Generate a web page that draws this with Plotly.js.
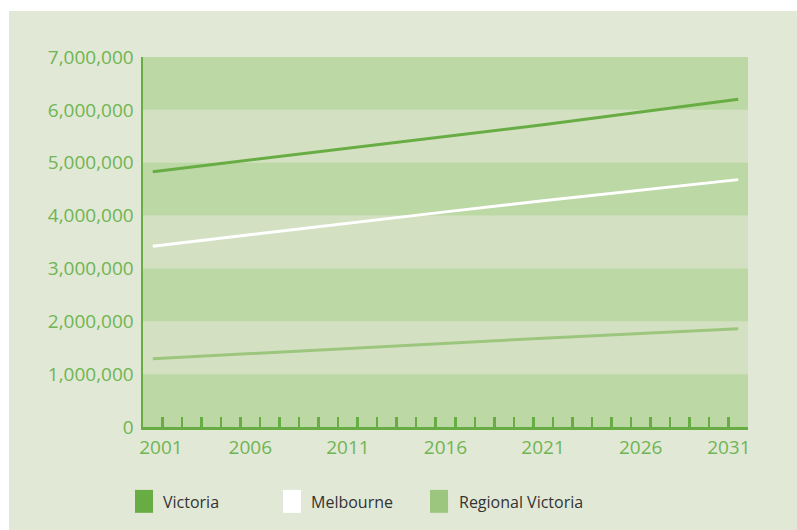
<!DOCTYPE html>
<html>
<head>
<meta charset="utf-8">
<script src="https://cdn.plot.ly/plotly-3.0.1.min.js"></script>
<style>
  html, body { margin: 0; padding: 0; background: #ffffff; width: 797px; height: 530px; overflow: hidden; }
  #chart { position: absolute; left: 9px; top: 11px; width: 788px; height: 519px; }
</style>
</head>
<body>
<div id="chart"></div>
<script>
// Data
const years = [2001, 2006, 2011, 2016, 2021, 2026, 2031];
const victoria  = [4830000, 5050000, 5270000, 5490000, 5720000, 5960000, 6200000];
const melbourne = [3420000, 3640000, 3860000, 4070000, 4280000, 4480000, 4680000];
const regional  = [1290000, 1390000, 1490000, 1580000, 1680000, 1770000, 1860000];
const seriesNames = ['Victoria', 'Melbourne', 'Regional Victoria'];
const xTickVals = [2001.42, 2006, 2011, 2016, 2021, 2026, 2030.52];
const xTickText = ['2001', '2006', '2011', '2016', '2021', '2026', '2031'];
const yTickVals = [0, 1000000, 2000000, 3000000, 4000000, 5000000, 6000000, 7000000];
const yTickText = ['0', '1,000,000', '2,000,000', '3,000,000', '4,000,000', '5,000,000', '6,000,000', '7,000,000'];
const lightBands = [[1000000, 2000000], [3000000, 4000000], [5000000, 6000000]];

const colors = ['#68ad44', '#ffffff', '#9cc67e'];
const green = '#68ad44';
const tickGreen = '#6fb552';
const xRange = [2000.5, 2031.5];

// small tick marks between the yearly categories
const catTicks = [];
for (let y = 2001.5; y < 2031; y += 1) catTicks.push(y);

const traces = [victoria, melbourne, regional].map((vals, i) => ({
  type: 'scatter', mode: 'lines', x: years, y: vals, name: seriesNames[i],
  xaxis: i === 2 ? 'x2' : 'x',
  line: { color: colors[i], width: 3 }, showlegend: false, hoverinfo: 'skip'
}));

const shapes = lightBands.map(b => ({
  type: 'rect', xref: 'paper', yref: 'y', x0: 0, x1: 1, y0: b[0], y1: b[1],
  fillcolor: '#d3e1c2', line: { width: 0 }, layer: 'below'
}));

// legend swatches and labels
const legX = [-0.0132, 0.2314, 0.4744];
const legTextX = [0.0298, 0.2744, 0.519];
const annotations = [];
seriesNames.forEach((n, i) => {
  shapes.push({
    type: 'rect', xref: 'paper', yref: 'paper',
    x0: legX[i], x1: legX[i] + 0.0298, y0: -0.232, y1: -0.170,
    fillcolor: colors[i], line: { width: 0 }
  });
  annotations.push({
    xref: 'paper', yref: 'paper', x: legTextX[i], y: -0.2014,
    xanchor: 'left', yanchor: 'middle', showarrow: false, text: n,
    font: { family: 'Open Sans, sans-serif', size: 16, color: '#333333' }
  });
});

const layout = {
  width: 788, height: 519,
  margin: { l: 134, r: 49, t: 46, b: 103 },
  paper_bgcolor: '#e2e8d6',
  plot_bgcolor: '#bcd8a5',
  showlegend: false,
  xaxis: {
    range: xRange, type: 'linear',
    tickvals: xTickVals, ticktext: xTickText,
    ticks: '', showgrid: false, zeroline: false,
    showline: true, linecolor: green, linewidth: 2.5,
    tickfont: { family: 'Open Sans, sans-serif', size: 19, color: tickGreen },
    ticklabelstandoff: 2,
    fixedrange: true
  },
  xaxis2: {
    range: xRange, type: 'linear', overlaying: 'x', anchor: 'y', side: 'bottom',
    tickmode: 'array', tickvals: catTicks, showticklabels: false,
    ticks: 'inside', ticklen: 10, tickwidth: 2.5, tickcolor: green,
    showgrid: false, zeroline: false, showline: false,
    fixedrange: true
  },
  yaxis: {
    range: [0, 7000000],
    tickvals: yTickVals, ticktext: yTickText,
    ticks: '', showgrid: false, zeroline: false,
    showline: true, linecolor: green, linewidth: 2.5,
    tickfont: { family: 'Open Sans, sans-serif', size: 19, color: tickGreen },
    ticklabelstandoff: 3,
    fixedrange: true
  },
  shapes: shapes,
  annotations: annotations
};

Plotly.newPlot('chart', traces, layout, { displayModeBar: false, staticPlot: true });
</script>
</body>
</html>
